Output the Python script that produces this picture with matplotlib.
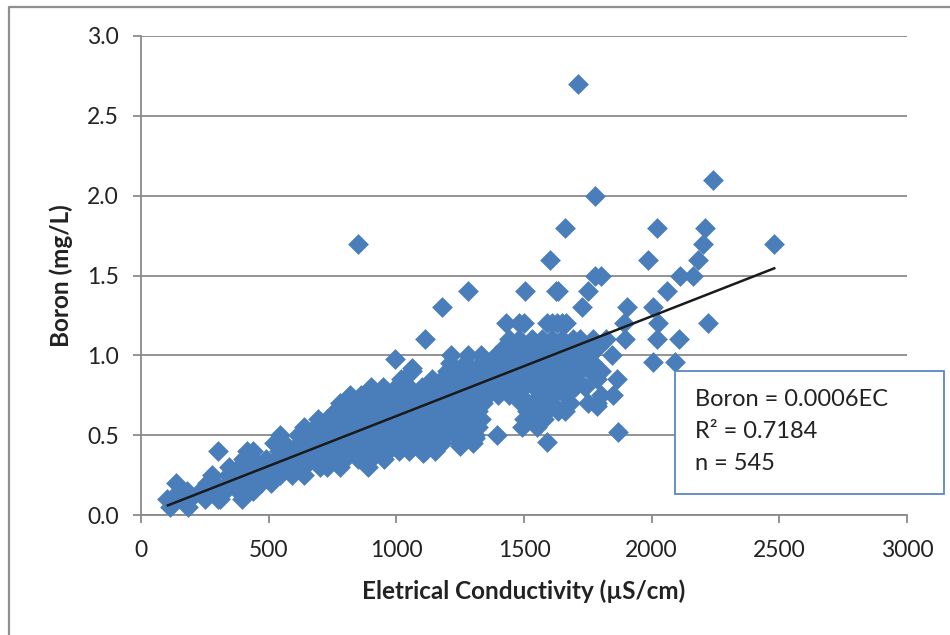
import matplotlib
matplotlib.use('Agg')
import matplotlib.pyplot as plt
from matplotlib.patches import Rectangle

plt.rcParams['font.family'] = ['Lato', 'DejaVu Sans']

# titik, dikelompokkan per nilai boron
boron_levels = [0.05, 0.10, 0.15, 0.20, 0.25, 0.30, 0.35, 0.40, 0.45, 0.50, 0.55,
                0.60, 0.65, 0.70, 0.75, 0.80, 0.85, 0.90, 0.95, 1.00, 1.05, 1.10, 1.20]
ec_by_level = [
    [114, 184],
    [100, 130, 160, 190, 250, 300, 310, 395],
    [150, 180, 230, 270, 290, 330, 380, 440],
    [136, 260, 290, 340, 390, 430, 470, 510],
    [280, 340, 380, 420, 470, 510, 545, 590, 640],
    [345, 385, 430, 470, 510, 550, 590, 640, 700, 730, 780, 890],
    [400, 440, 490, 530, 570, 620, 660, 700, 750, 800, 850, 900, 950],
    [300, 415, 440, 540, 580, 620, 660, 700, 740, 780, 820, 860, 900, 940, 968, 1010, 1050, 1112, 1150],
    [520, 560, 620, 680, 730, 770, 810, 850, 900, 950, 1000, 1040, 1090, 1130, 1180, 1250, 1300],
    [545, 615, 660, 700, 750, 790, 830, 870, 910, 950, 990, 1030, 1070, 1110, 1150, 1190, 1230, 1270, 1310, 1394],
    [640, 680, 720, 760, 800, 840, 880, 920, 960, 1000, 1040, 1080, 1120, 1160, 1200, 1240, 1280, 1320, 1492, 1550],
    [695, 730, 770, 810, 850, 890, 930, 970, 1010, 1050, 1090, 1130, 1170, 1210, 1250, 1290, 1330, 1500, 1540, 1580],
    [760, 800, 840, 880, 920, 960, 1000, 1040, 1080, 1120, 1160, 1200, 1240, 1280, 1320, 1510, 1550, 1590, 1633, 1660],
    [780, 820, 860, 900, 940, 980, 1020, 1060, 1100, 1140, 1180, 1220, 1260, 1300, 1340, 1490, 1530, 1570, 1610, 1680, 1750, 1786],
    [818, 860, 900, 950, 1000, 1040, 1080, 1120, 1160, 1200, 1240, 1280, 1320, 1360, 1400, 1440, 1484, 1563, 1614, 1660, 1800, 1849],
    [948, 900, 1000, 1050, 1100, 1140, 1180, 1220, 1260, 1300, 1340, 1380, 1420, 1460, 1500, 1540, 1580, 1620, 1660, 1700, 1740],
    [1020, 1140, 1180, 1220, 1260, 1300, 1340, 1380, 1420, 1460, 1500, 1540, 1580, 1620, 1660, 1700, 1786, 1864],
    [1060, 1200, 1240, 1280, 1320, 1360, 1400, 1440, 1480, 1520, 1560, 1600, 1640, 1680, 1720, 1760, 1800],
    [1210, 1270, 1330, 1370, 1410, 1450, 1490, 1530, 1570, 1610, 1650, 1690, 1730, 1770],
    [1215, 1280, 1330, 1390, 1430, 1470, 1510, 1550, 1590, 1630, 1670, 1710, 1760, 1845],
    [1420, 1460, 1500, 1540, 1580, 1620, 1660, 1700, 1740, 1790],
    [1440, 1480, 1530, 1570, 1610, 1650, 1690, 1720, 1770, 1820, 1896, 2020, 2108],
    [1430, 1482, 1500, 1590, 1610, 1630, 1650, 1665, 1890, 2026, 2220],
]

# titik yang terpisah dari kumpulan utama
ec_outliers = [850, 1710, 1780, 2240, 2480, 1660, 2020, 2210, 2200, 1985, 1600, 2180, 2160, 2110,
               1780, 1800, 1180, 1280, 1504, 1625, 1635, 1751, 2059, 1727, 2007, 1903, 1112, 995,
               1060, 2007, 2092, 1868, 1590, 1308, 1250, 1105, 1786]
boron_outliers = [1.7, 2.7, 2.0, 2.1, 1.7, 1.8, 1.8, 1.8, 1.7, 1.6, 1.6, 1.6, 1.5, 1.5,
                  1.5, 1.5, 1.3, 1.4, 1.4, 1.4, 1.4, 1.4, 1.4, 1.3, 1.3, 1.3, 1.1, 0.98,
                  0.92, 0.96, 0.96, 0.52, 0.46, 0.48, 0.43, 0.39, 0.68]

trend_ec = [105, 2480]
trend_boron = [0.06, 1.545]

x_ticks = [0, 500, 1000, 1500, 2000, 2500, 3000]
y_ticks = [0.0, 0.5, 1.0, 1.5, 2.0, 2.5, 3.0]

ec = []
boron = []
for level, values in zip(boron_levels, ec_by_level):
    ec += values
    boron += [level] * len(values)
ec += ec_outliers
boron += boron_outliers

W, H = 950, 635
fig = plt.figure(figsize=(W / 100, H / 100), dpi=100)
ax = fig.add_axes([141 / W, 1 - 515 / H, (907 - 141) / W, (515 - 36) / H])

gray = '#8a8a8a'
ax.set_xlim(0, 3000)
ax.set_ylim(0, 3)
ax.set_xticks(x_ticks)
ax.set_yticks(y_ticks)
ax.set_yticklabels(['%.1f' % v for v in y_ticks])
ax.grid(axis='y', color=gray, lw=1.3)
ax.set_axisbelow(True)
for side in ['top', 'right']:
    ax.spines[side].set_visible(False)
for side in ['left', 'bottom']:
    ax.spines[side].set_color(gray)
    ax.spines[side].set_linewidth(1.3)
ax.tick_params(color=gray, width=1.3, length=6, labelsize=16.5, labelcolor='#222222')
ax.tick_params(axis='y', pad=10)
ax.tick_params(axis='x', pad=12)

ax.scatter(ec, boron, marker='D', s=112, color='#4a7ebb', linewidths=0, clip_on=False, zorder=3)
ax.plot(trend_ec, trend_boron, color='#1a1a1a', lw=1.8, zorder=4)

ax.set_xlabel('Eletrical Conductivity (µS/cm)', fontsize=17.5, fontweight='bold', labelpad=13, color='#222222')
ax.set_ylabel('Boron (mg/L)', fontsize=17.5, fontweight='bold', labelpad=10, color='#222222')

# kotak persamaan dan bingkai luar memakai koordinat piksel gambar
fig.add_artist(Rectangle((675 / W, 1 - 494 / H), 269 / W, 123 / H, transform=fig.transFigure,
                         facecolor='white', edgecolor='#5b87c0', lw=1.3, zorder=5))
for y, line in zip([399, 432, 464], ['Boron = 0.0006EC', 'R² = 0.7184', 'n = 545']):
    fig.text(695 / W, 1 - y / H, line, fontsize=17, color='#222222', va='center', zorder=6)

fig.add_artist(plt.Line2D([9 / W, 9 / W, 950 / W], [0, 1 - 7 / H, 1 - 7 / H], color='#8f8f8f', lw=1.6))

fig.savefig('out.png', dpi=100)
